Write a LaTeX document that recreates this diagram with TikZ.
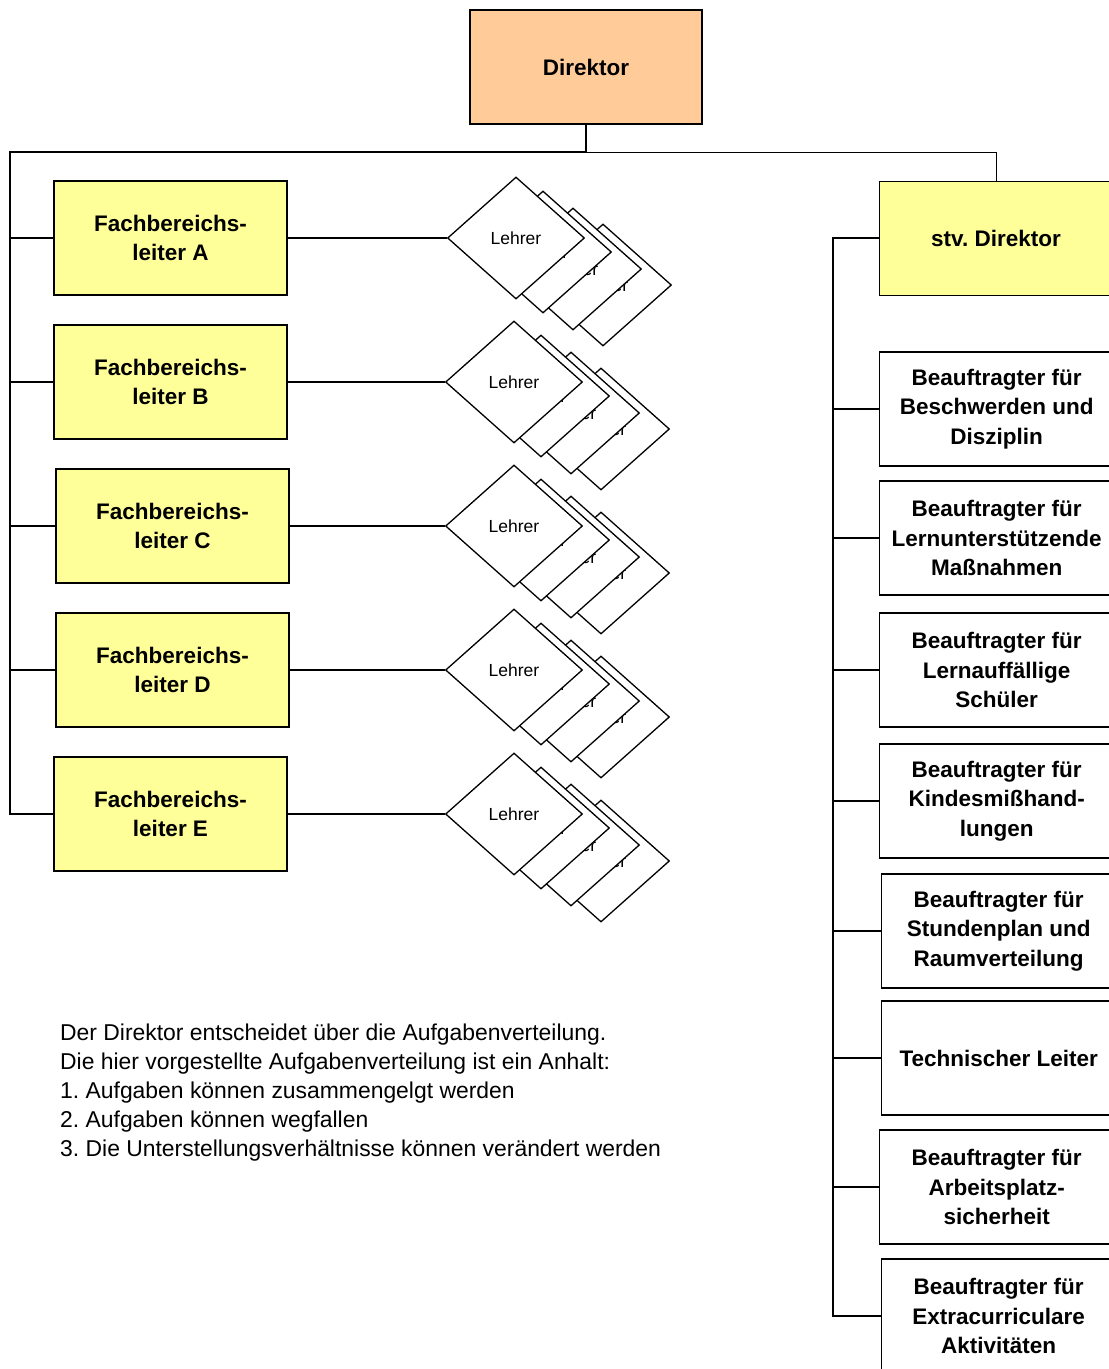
\documentclass[tikz,border=0pt]{standalone}
\usepackage{fontspec}
\setmainfont{Liberation Sans}
\usetikzlibrary{shapes.geometric}
\frenchspacing
\definecolor{peach}{HTML}{FFCC99}
\definecolor{lightyellow}{HTML}{FFFF99}
\tikzset{
  box/.style={draw=black, line width=1.4pt, rectangle, inner sep=0pt, align=center,
    font=\bfseries\fontsize{22.5}{29.5}\selectfont},
  fbbox/.style={box, fill=lightyellow, minimum width=233pt, minimum height=114pt},
  rbox/.style={box, fill=white, minimum width=234pt, minimum height=114pt},
  lehrer/.style={draw=black, line width=1.3pt, diamond, fill=white, inner sep=0pt,
    minimum width=137pt, minimum height=122pt, font=\fontsize{17.5}{20}\selectfont},
  tree/.style={line width=2pt},
  branch/.style={line width=1.3pt},
  thinline/.style={line width=1pt}
}
\begin{document}
\begin{tikzpicture}[x=1pt,y=-1pt]
\useasboundingbox (0,0) rectangle (1109,1369);
\clip (0,0) rectangle (1109,1369);

% Director
\node[box, fill=peach, minimum width=232pt, minimum height=114pt] (dir) at (586,67) {Direktor};
\coordinate (j) at (586,152);
\coordinate (tl) at (10,152);
\coordinate (tr) at (996,152);

% stv Direktor
\node[box, fill=lightyellow, minimum width=234pt, minimum height=114pt, anchor=north west] (stv) at (879,181) {};
\node[font=\bfseries\fontsize{22.5}{29.5}\selectfont] (stvtext) at (996,238) {stv. Direktor};

% Fachbereichsleiter boxes
\node[fbbox] (fa) at (170.5,238) {Fachbereichs-\\leiter A};
\node[fbbox] (fb) at (170.5,382) {Fachbereichs-\\leiter B};
\node[fbbox] (fc) at (172.5,526) {Fachbereichs-\\leiter C};
\node[fbbox] (fd) at (172.5,670) {Fachbereichs-\\leiter D};
\node[fbbox] (fe) at (170.5,814) {Fachbereichs-\\leiter E};

% Lehrer stacks
\foreach \n/\cx/\cy in {a/516/238, b/514/382, c/514/526, d/514/670, e/514/814} {
  \node[lehrer] (\n4) at (\cx+87,\cy+47) {Lehrer};
  \node[lehrer] (\n3) at (\cx+57,\cy+31) {Lehrer};
  \node[lehrer] (\n2) at (\cx+27,\cy+14) {Lehrer};
  \node[lehrer] (\n1) at (\cx,\cy) {Lehrer};
}

% connectors director
\draw[tree] (dir.south) -- (j);
\draw[tree] (j) -- (tl) |- (fe.west);
\draw[thinline] (j) -- (tr) -- (tr |- stv.north);
\foreach \n in {fa,fb,fc,fd} {
  \draw[tree] (tl |- \n.west) -- (\n.west);
}
\foreach \n/\m in {fa/a1, fb/b1, fc/c1, fd/d1, fe/e1} {
  \draw[branch] (\n.east) -- (\m.west);
}

% right column boxes
\node[rbox, anchor=west] (r1) at (879,409) {Beauftragter für\\Beschwerden und\\Disziplin};
\node[rbox, anchor=west] (r2) at (879,538) {Beauftragter für\\Lernunterstützende\\Maßnahmen};
\node[rbox, anchor=west] (r3) at (879,670) {Beauftragter für\\Lernauffällige\\Schüler};
\node[rbox, anchor=west] (r4) at (879,801) {Beauftragter für\\Kindesmißhand-\\lungen};
\node[rbox, anchor=west] (r5) at (881,931) {Beauftragter für\\Stundenplan und\\Raumverteilung};
\node[rbox, anchor=west] (r6) at (881,1058) {Technischer Leiter};
\node[rbox, anchor=west] (r7) at (879,1187) {Beauftragter für\\Arbeitsplatz-\\sicherheit};
\node[rbox, anchor=west] (r8) at (881,1316) {Beauftragter für\\Extracurriculare\\Aktivitäten};

\coordinate (rt) at (833,238);
\draw[tree] (stv.west |- rt) -- (rt) |- (r8.west);
\foreach \n in {r1,r2,r3,r4,r5,r6,r7} {
  \draw[branch] (rt |- \n.west) -- (\n.west);
}

% note
\node[anchor=north west, inner sep=0pt, align=left, font=\fontsize{22.9}{29}\selectfont] (note) at (60,1023.5)
 {Der Direktor entscheidet über die Aufgabenverteilung.\\
  Die hier vorgestellte Aufgabenverteilung ist ein Anhalt:\\
  1. Aufgaben können zusammengelgt werden\\
  2. Aufgaben können wegfallen\\
  3. Die Unterstellungsverhältnisse können verändert werden};
\end{tikzpicture}
\end{document}
